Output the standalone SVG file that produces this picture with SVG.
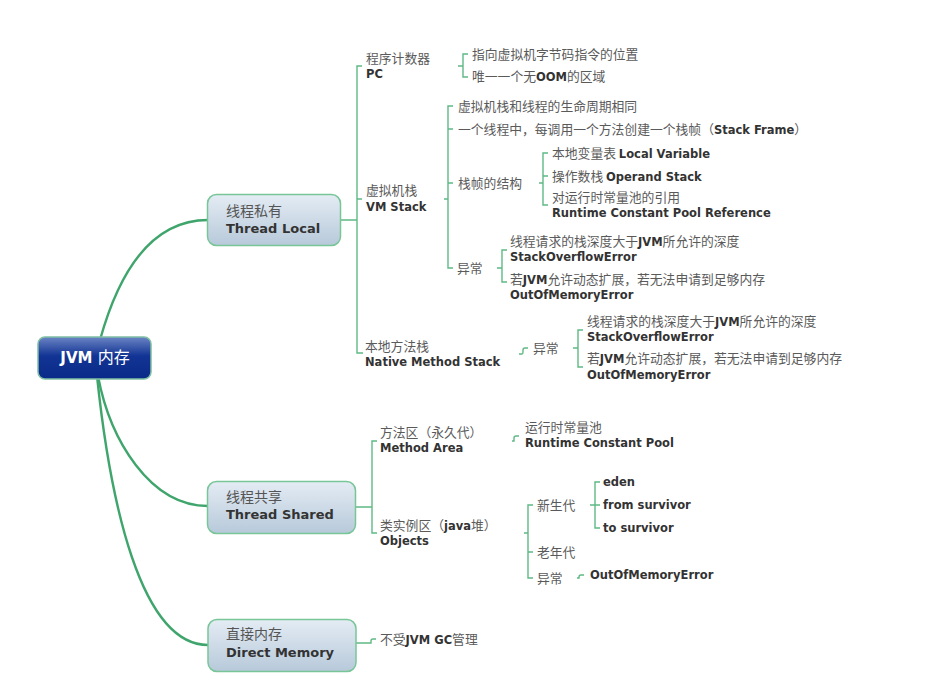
<svg xmlns="http://www.w3.org/2000/svg" width="939" height="698" viewBox="0 0 939 698">
<defs>
<linearGradient id="gNode" x1="0" y1="0" x2="0" y2="1">
<stop offset="0" stop-color="#e4ecf4"/>
<stop offset="1" stop-color="#b7c9da"/>
</linearGradient>
<linearGradient id="gRoot" x1="0" y1="0" x2="0" y2="1">
<stop offset="0" stop-color="#6b84c4"/>
<stop offset="0.45" stop-color="#123494"/>
<stop offset="1" stop-color="#0a2a88"/>
</linearGradient>
</defs>
<style>
.main{fill:none;stroke:#3fa56c;stroke-width:2.4}
.br{fill:none;stroke:#5fb985;stroke-width:1.4}
.node{fill:url(#gNode);stroke:#78c698;stroke-width:1.5}
.t{font-family:"Noto Sans CJK SC","DejaVu Sans",sans-serif;font-size:12.8px;fill:#5a5a5a}
.b{font-family:"DejaVu Sans","Noto Sans CJK SC",sans-serif;font-size:11.5px;font-weight:bold;fill:#333}
.nt{font-family:"Noto Sans CJK SC","DejaVu Sans",sans-serif;font-size:14px;fill:#555}
.nb{font-family:"DejaVu Sans","Noto Sans CJK SC",sans-serif;font-size:13px;font-weight:bold;fill:#333}
</style>
<rect width="939" height="698" fill="#fff"/>
<g id="connectors">
<path class="main" d="M100,340 C125,250 165,220 208,220"/>
<path class="main" d="M98,376 C110,440 150,506 208,506"/>
<path class="main" d="M97,376 C110,500 140,645 208,645"/>
<path class="br" d="M340,220 H357 M362,66 H357 V353 H363 M357,199 H362"/>
<path class="br" d="M458,66 H463 M468,54 H463 V77 H468"/>
<path class="br" d="M444,199 H448 M453,106 H448 V268 H453 M448,129 H453 M448,183 H453"/>
<path class="br" d="M539,183 H543 M548,153 H543 V205 H548 M543,176 H548"/>
<path class="br" d="M497,268 H502 M507,250 H502 V282 H507"/>
<path class="br" d="M519,354 H522 Q523,354 523,352 V350 Q523,348 525,348 H528"/>
<path class="br" d="M573,348 H578 M583,330 H578 V367 H583"/>
<path class="br" d="M355,507 H372 M377,441 H372 V533 H377"/>
<path class="br" d="M512,441 H514 V438 Q514,436 516,436 H519"/>
<path class="br" d="M524,533 H528 M533,505 H528 V578 H533 M528,552 H533"/>
<path class="br" d="M590,505 H600 M600,482 H595 V528 H600"/>
<path class="br" d="M577,578 H579 V577 Q579,575 581,575 H584"/>
<path class="br" d="M356,643 H371 V641 Q371,639 373,639 H376"/>
</g>
<g id="root">
<rect x="38" y="337" width="113" height="42" rx="7" fill="url(#gRoot)" stroke="#7fbfa3" stroke-width="1.5"/>
<text x="95" y="363" text-anchor="middle" fill="#fff"><tspan font-family="DejaVu Sans" font-weight="bold" font-size="15">JVM </tspan><tspan font-family="Noto Sans CJK SC, sans-serif" font-size="16">内存</tspan></text>
</g>
<g id="thread-local">
<rect class="node" x="207.5" y="194.5" width="133" height="51" rx="9"/>
<text class="nt" x="226" y="216">线程私有</text>
<text class="nb" x="226" y="233">Thread Local</text>
</g>
<g id="thread-shared">
<rect class="node" x="207.5" y="481.5" width="148" height="52" rx="9"/>
<text class="nt" x="226" y="502">线程共享</text>
<text class="nb" x="226" y="519">Thread Shared</text>
</g>
<g id="direct-memory">
<rect class="node" x="208" y="619.5" width="148" height="52" rx="9"/>
<text class="nt" x="226" y="639">直接内存</text>
<text class="nb" x="226" y="657">Direct Memory</text>
</g>
<g id="pc">
<text class="t" x="366" y="63">程序计数器</text>
<text class="b" x="366" y="78">PC</text>
</g>
<g id="pc-1"><text class="t" x="472" y="59">指向虚拟机字节码指令的位置</text></g>
<g id="pc-2"><text class="t" x="472" y="81">唯一一个无<tspan class="b">OOM</tspan>的区域</text></g>
<g id="vm-stack">
<text class="t" x="366" y="195">虚拟机栈</text>
<text class="b" x="366" y="211">VM Stack</text>
</g>
<g id="vm-1"><text class="t" x="458" y="111">虚拟机栈和线程的生命周期相同</text></g>
<g id="vm-2"><text class="t" x="458" y="134">一个线程中，每调用一个方法创建一个栈帧（<tspan class="b">Stack Frame</tspan>）</text></g>
<g id="vm-3"><text class="t" x="458" y="188">栈帧的结构</text></g>
<g id="frame-1"><text class="t" x="552" y="158">本地变量表 <tspan class="b">Local Variable</tspan></text></g>
<g id="frame-2"><text class="t" x="552" y="181">操作数栈 <tspan class="b">Operand Stack</tspan></text></g>
<g id="frame-3">
<text class="t" x="552" y="202">对运行时常量池的引用</text>
<text class="b" x="552" y="217">Runtime Constant Pool Reference</text>
</g>
<g id="vm-4"><text class="t" x="457" y="273">异常</text></g>
<g id="vm-ex-1">
<text class="t" x="510" y="246">线程请求的栈深度大于<tspan class="b">JVM</tspan>所允许的深度</text>
<text class="b" x="510" y="261">StackOverflowError</text>
</g>
<g id="vm-ex-2">
<text class="t" x="510" y="284">若<tspan class="b">JVM</tspan>允许动态扩展，若无法申请到足够内存</text>
<text class="b" x="510" y="299">OutOfMemoryError</text>
</g>
<g id="native">
<text class="t" x="365" y="351">本地方法栈</text>
<text class="b" x="365" y="366">Native Method Stack</text>
</g>
<g id="native-ex"><text class="t" x="533" y="353">异常</text></g>
<g id="native-ex-1">
<text class="t" x="587" y="326">线程请求的栈深度大于<tspan class="b">JVM</tspan>所允许的深度</text>
<text class="b" x="587" y="341">StackOverflowError</text>
</g>
<g id="native-ex-2">
<text class="t" x="587" y="363">若<tspan class="b">JVM</tspan>允许动态扩展，若无法申请到足够内存</text>
<text class="b" x="587" y="379">OutOfMemoryError</text>
</g>
<g id="method-area">
<text class="t" x="380" y="437">方法区（永久代）</text>
<text class="b" x="380" y="452">Method Area</text>
</g>
<g id="rcp">
<text class="t" x="525" y="432">运行时常量池</text>
<text class="b" x="525" y="447">Runtime Constant Pool</text>
</g>
<g id="objects">
<text class="t" x="380" y="530">类实例区（<tspan class="b">java</tspan>堆）</text>
<text class="b" x="380" y="545">Objects</text>
</g>
<g id="young"><text class="t" x="537" y="510">新生代</text></g>
<g id="eden"><text class="b" x="603" y="486">eden</text></g>
<g id="from"><text class="b" x="603" y="509">from survivor</text></g>
<g id="to"><text class="b" x="603" y="532">to survivor</text></g>
<g id="old"><text class="t" x="537" y="557">老年代</text></g>
<g id="heap-ex"><text class="t" x="537" y="583">异常</text></g>
<g id="heap-oom"><text class="b" x="590" y="579">OutOfMemoryError</text></g>
<g id="direct-1"><text class="t" x="380" y="644">不受<tspan class="b">JVM GC</tspan>管理</text></g>
</svg>
